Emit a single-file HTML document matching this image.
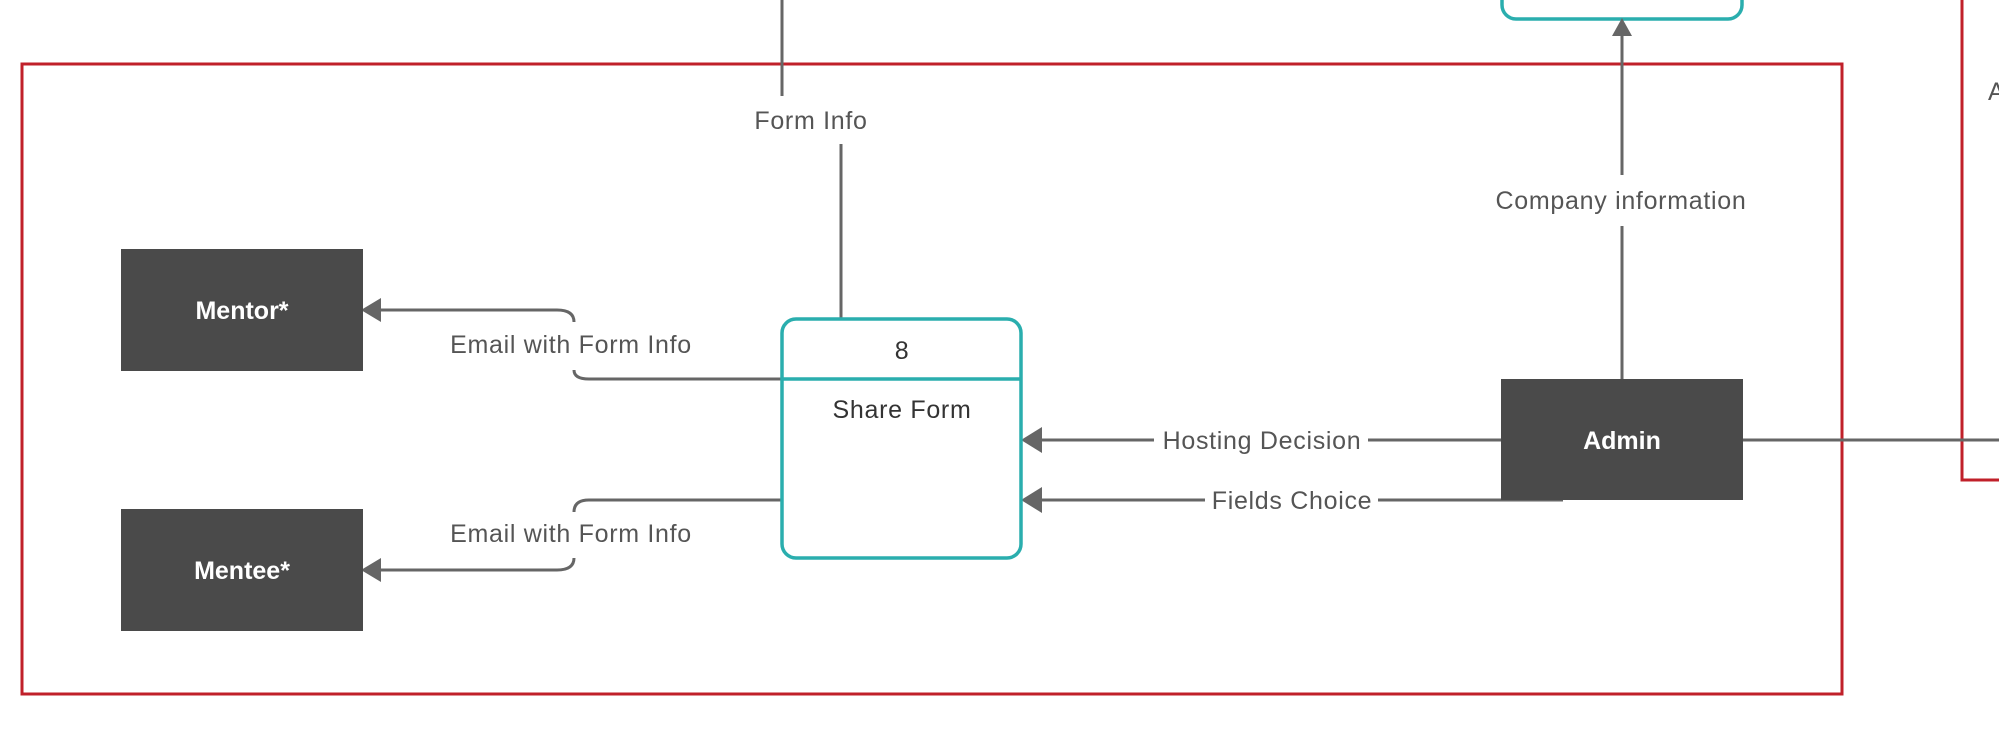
<!DOCTYPE html>
<html><head><meta charset="utf-8"><style>
html,body{margin:0;padding:0;background:#fff}
svg text{font-family:"Liberation Sans",sans-serif;font-size:25px;letter-spacing:0.7px;fill:#555}
</style></head><body>
<svg width="1999" height="732" viewBox="0 0 1999 732" xmlns="http://www.w3.org/2000/svg">
<rect x="22" y="64" width="1820" height="630" fill="none" stroke="#c0202a" stroke-width="3"/>
<path d="M1962,0 V480 H1999" fill="none" stroke="#c0202a" stroke-width="3"/>
<text x="1988" y="100">A</text>
<rect x="1502" y="-30" width="240" height="49" rx="14" fill="none" stroke="#2aaeae" stroke-width="3.5"/>
<g stroke="#666" stroke-width="3" fill="none">
<path d="M782,0 V96"/>
<path d="M841,144 V319"/>
<path d="M1622,175 V34"/>
<path d="M1622,226 V379"/>
<path d="M557,310 H380"/>
<path d="M557,310 Q574,310 574,322"/>
<path d="M574,370 Q574,379 589,379 H782"/>
<path d="M782,500 H589 Q574,500 574,512"/>
<path d="M574,558 Q574,570 557,570 H380"/>
<path d="M1154,440 H1040"/>
<path d="M1368,440 H1501"/>
<path d="M1743,440 H1999"/>
<path d="M1205,500 H1040"/>
<path d="M1378,500 H1563"/>
</g>
<g fill="#666">
<path d="M1622,18 L1612,36 L1632,36 Z"/>
<path d="M361,310 L381,298 L381,322 Z"/>
<path d="M361,570 L381,558 L381,582 Z"/>
<path d="M1021,440 L1042,427 L1042,453 Z"/>
<path d="M1021,500 L1042,487 L1042,513 Z"/>
</g>
<text x="811" y="129" text-anchor="middle">Form Info</text>
<text x="1621" y="209" text-anchor="middle">Company information</text>
<text x="571" y="353" text-anchor="middle">Email with Form Info</text>
<text x="571" y="542" text-anchor="middle">Email with Form Info</text>
<text x="1262" y="449" text-anchor="middle">Hosting Decision</text>
<text x="1292" y="509" text-anchor="middle">Fields Choice</text>
<rect x="782" y="319" width="239" height="239" rx="14" fill="#fff" stroke="#2aaeae" stroke-width="3.5"/>
<path d="M782,379 H1021" stroke="#2aaeae" stroke-width="3.5"/>
<text x="902" y="359" text-anchor="middle" style="fill:#333">8</text>
<text x="902" y="418" text-anchor="middle" style="fill:#333">Share Form</text>
<rect x="121" y="249" width="242" height="122" fill="#4a4a4a"/>
<text x="242" y="319" text-anchor="middle" style="fill:#fff;font-weight:bold;letter-spacing:0">Mentor*</text>
<rect x="121" y="509" width="242" height="122" fill="#4a4a4a"/>
<text x="242" y="579" text-anchor="middle" style="fill:#fff;font-weight:bold;letter-spacing:0">Mentee*</text>
<rect x="1501" y="379" width="242" height="121" fill="#4a4a4a"/>
<text x="1622" y="449" text-anchor="middle" style="fill:#fff;font-weight:bold;letter-spacing:0">Admin</text>
</svg>
</body></html>
